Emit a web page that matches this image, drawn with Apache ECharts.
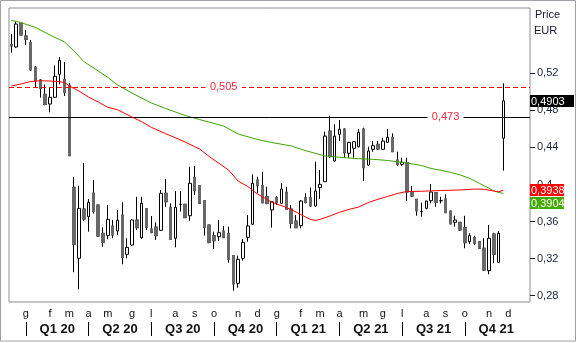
<!DOCTYPE html>
<html><head><meta charset="utf-8">
<script src="https://cdn.jsdelivr.net/npm/echarts@6/dist/echarts.min.js"></script>
<style>html,body{margin:0;padding:0;background:#fff}#c{width:577px;height:343px}</style>
</head><body><div id="c"></div>
<script>
const categories = [
'2019-12-13','2019-12-20','2019-12-27',
'2020-01-03','2020-01-10','2020-01-17','2020-01-24','2020-01-31',
'2020-02-07','2020-02-14','2020-02-21','2020-02-28',
'2020-03-06','2020-03-13','2020-03-20','2020-03-27',
'2020-04-03','2020-04-10','2020-04-17','2020-04-24',
'2020-05-01','2020-05-08','2020-05-15','2020-05-22','2020-05-29',
'2020-06-05','2020-06-12','2020-06-19','2020-06-26',
'2020-07-03','2020-07-10','2020-07-17','2020-07-24','2020-07-31',
'2020-08-07','2020-08-14','2020-08-21','2020-08-28',
'2020-09-04','2020-09-11','2020-09-18','2020-09-25',
'2020-10-02','2020-10-09','2020-10-16','2020-10-23','2020-10-30',
'2020-11-06','2020-11-13','2020-11-20','2020-11-27',
'2020-12-04','2020-12-11','2020-12-18','2020-12-25',
'2021-01-01','2021-01-08','2021-01-15','2021-01-22','2021-01-29',
'2021-02-05','2021-02-12','2021-02-19','2021-02-26',
'2021-03-05','2021-03-12','2021-03-19','2021-03-26',
'2021-04-02','2021-04-09','2021-04-16','2021-04-23','2021-04-30',
'2021-05-07','2021-05-14','2021-05-21','2021-05-28',
'2021-06-04','2021-06-11','2021-06-18','2021-06-25',
'2021-07-02','2021-07-09','2021-07-16','2021-07-23','2021-07-30',
'2021-08-06','2021-08-13','2021-08-20','2021-08-27',
'2021-09-03','2021-09-10','2021-09-17','2021-09-24',
'2021-10-01','2021-10-08','2021-10-15','2021-10-22','2021-10-29',
'2021-11-05','2021-11-12','2021-11-19','2021-11-26',
'2021-12-03','2021-12-10','2021-12-17','2021-12-24','2021-12-31'];

const openVals = [0.5513,0.5484,0.5743,0.5603,0.5530,0.5268,0.5128,0.4973,0.4869,0.4941,
0.5189,0.5135,0.5071,0.3970,0.3204,0.3736,0.3653,0.3908,0.3779,0.3473,
0.3448,0.3552,0.3498,0.3671,0.3247,0.3347,0.3617,0.3426,0.3739,0.3520,
0.3541,0.3506,0.3905,0.3754,0.3420,0.3786,0.3786,0.3663,0.4078,0.3987,
0.3825,0.3563,0.3448,0.3437,0.3498,0.3473,0.3232,0.2934,0.3204,0.3430,
0.3571,0.4049,0.3987,0.3868,0.3725,0.3858,0.3797,0.3916,0.3736,0.3606,
0.3556,0.3858,0.3858,0.3768,0.3966,0.4030,0.4577,0.4254,0.4542,0.4599,
0.4337,0.4391,0.4408,0.4599,0.4210,0.4380,0.4434,0.4380,0.4455,0.4509,
0.4264,0.4218,0.4237,0.3922,0.3840,0.3707,0.3743,0.3825,0.3912,0.3825,
0.3844,0.3714,0.3592,0.3592,0.3534,0.3383,0.3426,0.3383,0.3312,0.3070,
0.3466,0.3160,0.4499];
const closeVals = [0.5495,0.5732,0.5613,0.5567,0.5236,0.5117,0.5038,0.4865,0.4941,0.5168,
0.5340,0.4995,0.4311,0.3355,0.3743,0.3628,0.3808,0.3707,0.3444,0.3376,
0.3624,0.3455,0.3614,0.3214,0.3322,0.3617,0.3534,0.3797,0.3538,0.3484,
0.3448,0.3905,0.3814,0.3409,0.3754,0.3786,0.3642,0.4013,0.3933,0.3797,
0.3538,0.3376,0.3394,0.3480,0.3426,0.3193,0.2926,0.3193,0.3376,0.3552,
0.4013,0.3987,0.3804,0.3797,0.3814,0.3804,0.3951,0.3732,0.3581,0.3534,
0.3822,0.3804,0.3768,0.3930,0.4002,0.4523,0.4300,0.4523,0.4596,0.4343,
0.4455,0.4462,0.4563,0.4181,0.4362,0.4419,0.4383,0.4469,0.4509,0.4354,
0.4218,0.4240,0.3919,0.3876,0.3717,0.3707,0.3822,0.3919,0.3808,0.3825,
0.3696,0.3574,0.3617,0.3509,0.3372,0.3448,0.3365,0.3312,0.3077,0.3420,
0.3247,0.3473,0.4903];
const lowVals = [0.5422,0.5476,0.5613,0.5505,0.5225,0.5049,0.4937,0.4855,0.4779,0.4933,
0.5081,0.4955,0.4311,0.3053,0.2869,0.3606,0.3491,0.3685,0.3437,0.3329,
0.3409,0.3420,0.3455,0.3139,0.3204,0.3336,0.3509,0.3412,0.3509,0.3473,
0.3401,0.3498,0.3760,0.3409,0.3322,0.3707,0.3640,0.3609,0.3887,0.3790,
0.3448,0.3365,0.3304,0.3390,0.3423,0.3156,0.2854,0.2886,0.3178,0.3383,
0.3563,0.3905,0.3797,0.3786,0.3534,0.3779,0.3797,0.3732,0.3527,0.3531,
0.3527,0.3800,0.3760,0.3760,0.3844,0.4027,0.4286,0.4246,0.4469,0.4289,
0.4289,0.4289,0.4400,0.4038,0.4200,0.4354,0.4372,0.4372,0.4455,0.4354,
0.4200,0.4200,0.3825,0.3868,0.3663,0.3653,0.3732,0.3797,0.3760,0.3797,
0.3696,0.3574,0.3545,0.3498,0.3312,0.3358,0.3347,0.3304,0.3067,0.3031,
0.3150,0.3153,0.4149];
const highVals = [0.5624,0.5757,0.5750,0.5667,0.5559,0.5279,0.5138,0.5081,0.5049,0.5286,
0.5376,0.5322,0.5095,0.4081,0.3987,0.4232,0.3844,0.4049,0.3779,0.3538,
0.3779,0.3617,0.3725,0.3808,0.3420,0.3628,0.3868,0.3868,0.3739,0.3660,
0.3592,0.3941,0.4059,0.3797,0.3930,0.3930,0.3790,0.4192,0.4200,0.3990,
0.3830,0.3565,0.3491,0.3617,0.3552,0.3545,0.3235,0.3232,0.3412,0.3671,
0.4110,0.4084,0.4138,0.3976,0.3816,0.3876,0.4013,0.3976,0.3779,0.3671,
0.3833,0.3905,0.3966,0.4246,0.4157,0.4570,0.4742,0.4650,0.4696,0.4605,
0.4460,0.4465,0.4599,0.4613,0.4408,0.4469,0.4469,0.4505,0.4599,0.4553,
0.4354,0.4289,0.4289,0.3984,0.3840,0.3804,0.3825,0.4005,0.3915,0.3868,
0.3894,0.3714,0.3663,0.3592,0.3663,0.3473,0.3448,0.3386,0.3420,0.3563,
0.3480,0.3498,0.5092];

// moving averages read at sampled weeks (1-based week number)
const greenWeeks = [1,2,4,6,9,12,14,16,19,21,23,26,30,33,37,40,45,48,52,55,59,62,66,69,73,76,79,83,86,88,90,92,94,96,98,100,101,102,103];
const greenVals  = [0.5770,0.5761,0.5730,0.5694,0.5613,0.5538,0.5441,0.5327,0.5225,0.5155,0.5074,0.4987,0.4880,0.4820,0.4745,0.4701,0.4631,0.4545,0.4486,0.4453,0.4416,0.4365,0.4308,0.4294,0.4278,0.4272,0.4259,0.4232,0.4205,0.4173,0.4153,0.4132,0.4103,0.4067,0.4013,0.3959,0.3930,0.3914,0.3904];
const redWeeks = [1,3,5,7,9,11,12,13,15,17,19,21,23,26,28,30,33,35,37,40,42,44,46,48,50,52,55,58,60,62,63,64,65,67,69,71,73,75,77,79,81,83,86,90,94,97,99,101,102,103];
const redVals  = [0.5063,0.5085,0.5112,0.5120,0.5117,0.5109,0.5101,0.5063,0.5009,0.4944,0.4890,0.4833,0.4807,0.4728,0.4678,0.4617,0.4548,0.4504,0.4459,0.4383,0.4302,0.4229,0.4157,0.4038,0.3978,0.3898,0.3808,0.3752,0.3703,0.3649,0.3622,0.3613,0.3624,0.3660,0.3700,0.3732,0.3757,0.3806,0.3841,0.3871,0.3903,0.3925,0.3927,0.3935,0.3941,0.3951,0.3948,0.3930,0.3922,0.3938];

const levels = [0.505, 0.473];
const yTicks = [0.28, 0.32, 0.36, 0.40, 0.44, 0.48, 0.52];
const monthLetters = ['g','f','m','a','m','g','l','a','s','o','n','d'];
const quarterNames = ['Q1 20','Q2 20','Q3 20','Q4 20','Q1 21','Q2 21','Q3 21','Q4 21'];

const FONT = 'Liberation Sans, Arial, sans-serif';
const comma = s => s.replace('.', ',');
const GRID = {left: 9, top: 8, width: 521, height: 294};

// month and quarter starts from categories
const monthOf = s => parseInt(s.slice(5,7), 10) - 1;
const monthStarts = [];
for (let i = 1; i < categories.length; i++) {
  if (monthOf(categories[i]) !== monthOf(categories[i-1])) monthStarts.push(i);
}
const quarterStarts = monthStarts.filter(i => monthOf(categories[i]) % 3 === 0);
const quarterLabelAt = {};
quarterStarts.forEach((s, k) => {
  const e = k + 1 < quarterStarts.length ? quarterStarts[k+1] : categories.length - 1;
  quarterLabelAt[Math.floor((s + e) / 2)] = quarterNames[k];
});

const kData = openVals.map((o, i) => [o, closeVals[i], lowVals[i], highVals[i]]);
const downBody = openVals.map((o, i) => o > closeVals[i] ? [o, closeVals[i], closeVals[i], o] : '-');
const fill = (weeks, vals) => { const a = new Array(openVals.length).fill(null); weeks.forEach((w, k) => a[w-1] = vals[k]); return a; };
const greenLine = fill(greenWeeks, greenVals);
const redLine = fill(redWeeks, redVals);

const levelLabel = {show: true, position: 'inside', color: '#f0283c', fontSize: 11, fontFamily: FONT, formatter: p => comma(p.value.toFixed(3))};

const chart = echarts.init(document.getElementById('c'), null, {renderer: 'canvas'});
const option = {
  animation: false,
  backgroundColor: '#fff',
  grid: Object.assign({show: true, borderColor: '#8c8c98', borderWidth: 1, backgroundColor: '#fff'}, GRID),
  xAxis: [
    {type: 'category', data: categories, boundaryGap: true, axisLine: {show: false}, axisTick: {show: false}, splitLine: {show: false},
     axisLabel: {interval: (i) => monthStarts.includes(i), formatter: (v, i) => monthLetters[monthOf(v)], fontSize: 11, fontFamily: FONT, color: '#111', margin: 6}},
    {type: 'category', data: categories, boundaryGap: true, position: 'bottom', offset: 20, axisLine: {show: false},
     axisTick: {show: true, interval: (i) => quarterStarts.includes(i), alignWithLabel: true, length: 14, lineStyle: {color: '#000', width: 1}},
     axisLabel: {interval: (i) => quarterLabelAt[i] !== undefined, formatter: (v, i) => quarterLabelAt[i] || '', fontSize: 13, fontWeight: 'bold', fontFamily: FONT, color: '#111', margin: 1, padding: [0,0,0,5]}}
  ],
  yAxis: {type: 'value', position: 'right', min: 0.2732, max: 0.5905, scale: true,
    axisLine: {show: false}, splitLine: {show: false},
    axisTick: {show: true, customValues: yTicks, length: 5, lineStyle: {color: '#222'}},
    axisLabel: {customValues: yTicks, formatter: v => comma(String(parseFloat(v.toFixed(2)))), fontSize: 11, fontFamily: FONT, color: '#1c2238', margin: 7}},
  series: [
    {type: 'candlestick', name: 'k', data: kData, barWidth: 3, z: 2,
     itemStyle: {color: '#fff', color0: '#686868', borderColor: '#000', borderColor0: '#000', borderColorDoji: '#000', borderWidth: 1}},
    {type: 'candlestick', name: 'kb', data: downBody, barWidth: 3, z: 3,
     itemStyle: {color: '#686868', color0: '#686868', borderColor: '#686868', borderColor0: '#686868', borderWidth: 1}},
    {type: 'line', name: 'green', data: greenLine, connectNulls: true, symbol: 'none', z: 4, lineStyle: {color: '#3da600', width: 1},
     markLine: {silent: true, precision: 4, symbol: ['none','none'], label: {show: false},
       lineStyle: {color: '#000000', type: 'solid', width: 1},
       data: [{yAxis: levels[1]}]},
     markPoint: {silent: true, symbol: 'rect', symbolSize: [36, 11], itemStyle: {color: '#fff', borderWidth: 0}, label: levelLabel, z: 20,
       data: [{coord: [90, levels[1]], value: levels[1]}]}},
    {type: 'line', name: 'red', data: redLine, connectNulls: true, symbol: 'none', z: 5, lineStyle: {color: '#ff0000', width: 1},
     markPoint: {silent: true, symbol: 'rect', symbolSize: [36, 11], itemStyle: {color: '#fff', borderWidth: 0}, label: levelLabel, z: 20,
       data: [{coord: [44, levels[0]], value: levels[0]}]}}
  ]
};
chart.setOption(option);

const yOf = v => chart.convertToPixel({yAxisIndex: 0}, v);
const n = openVals.length;
const g = [];
// dashed level line across the plot, placed through the y scale
const yd = Math.round(yOf(levels[0])) + 0.5;
g.push({type: 'line', z: 5, silent: true, shape: {x1: GRID.left, y1: yd, x2: GRID.left + GRID.width, y2: yd},
  style: {stroke: '#ff0000', lineWidth: 1, lineDash: [5, 3]}});
// white gap behind the 0,505 label (drawn above the dashed line)
const xl = chart.convertToPixel({xAxisIndex: 0}, categories[44]);
g.push({type: 'rect', z: 6, silent: true, shape: {x: xl - 18, y: yd - 5.5, width: 36, height: 11}, style: {fill: '#fff'}});
g.push({type: 'text', z: 7, silent: true, style: {text: comma(levels[0].toFixed(3)), x: xl, y: yd, align: 'center', verticalAlign: 'middle', fill: '#f0283c', font: '11px ' + FONT}});

const boxes = [
  {v: closeVals[n-1], fill: '#000', w: 44},
  {v: redVals[redVals.length-1], fill: '#ff0000', w: 34},
  {v: greenVals[greenVals.length-1], fill: '#44aa00', w: 34}
].map(b => Object.assign(b, {y: yOf(b.v)})).sort((a, b) => a.y - b.y);
const H = 12;
let prevBottom = -1e9;
boxes.forEach(b => {
  let top = b.y - H / 2;
  if (top < prevBottom + 1) top = prevBottom + 1;
  prevBottom = top + H;
  g.push({type: 'rect', z: 100, shape: {x: 530, y: Math.round(top), width: b.w, height: H}, style: {fill: b.fill}});
  g.push({type: 'text', z: 101, style: {text: comma(b.v.toFixed(4)), x: 531, y: Math.round(top) + H / 2 + 0.5, fill: '#fff', font: '11px ' + FONT, verticalAlign: 'middle'}});
});
g.push({type: 'text', z: 101, style: {text: 'Price', x: 535, y: 15, fill: '#1a1a2e', font: '11px ' + FONT, verticalAlign: 'middle'}});
g.push({type: 'text', z: 101, style: {text: 'EUR', x: 534, y: 31, fill: '#1a1a2e', font: '11px ' + FONT, verticalAlign: 'middle'}});
g.push({type: 'rect', z: 0, shape: {x: 0.5, y: 0.5, width: 575, height: 340.5}, style: {fill: 'none', stroke: '#a0a0a8', lineWidth: 1}});
chart.setOption({graphic: g});
</script></body></html>
